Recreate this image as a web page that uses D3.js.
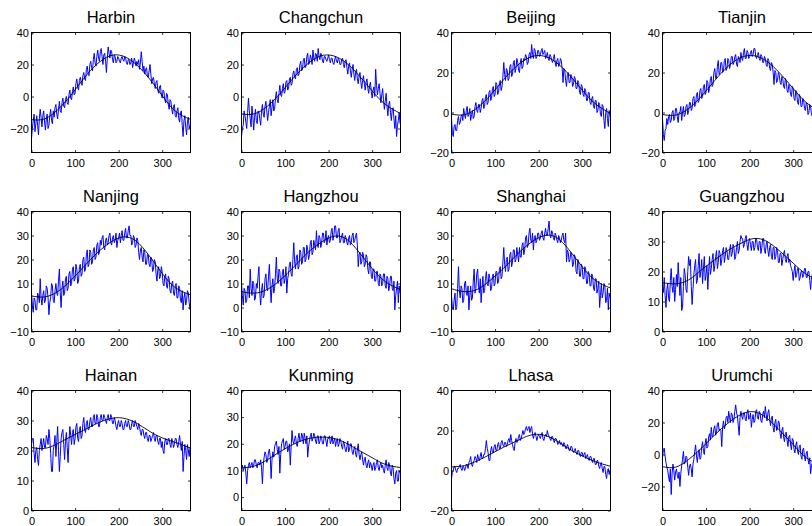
<!DOCTYPE html>
<meta charset="utf-8">
<style>
body { margin: 0; background: #fff; }
svg { display: block; font-family: "Liberation Sans", Arial, Helvetica, sans-serif; }
.tick text { font-size: 11px; fill: #000; }
.tick line { stroke: #000; stroke-width: 0.8px; }
.title { font-size: 16.5px; text-anchor: middle; fill: #000; }
.temp { fill: none; stroke: #0000ff; stroke-width: 1px; stroke-linejoin: round; }
.fit { fill: none; stroke: #000; stroke-width: 0.9px; }
.frame { fill: none; stroke: #000; stroke-width: 1px; }
</style>
<body></body>
<script src="https://cdn.jsdelivr.net/npm/d3@7"></script>
<script>

// day of year for the daily readings (every 2nd day) and for the fitted curve
var days = d3.range(0, 365, 2)
var fitDays = [0, 30, 60, 90, 120, 150, 180, 210, 240, 270, 300, 330, 365]
var xTicks = [0, 100, 200, 300]

var cities = ["Harbin", "Changchun", "Beijing", "Tianjin",
              "Nanjing", "Hangzhou", "Shanghai", "Guangzhou",
              "Hainan", "Kunming", "Lhasa", "Urumchi"]

var yLimits = [[-35, 40], [-35, 40], [-20, 40], [-20, 40],
               [-10, 40], [-10, 40], [-10, 40], [0, 40],
               [0, 40], [-5, 40], [-20, 40], [-35, 40]]
var yStep = [20, 20, 20, 20, 10, 10, 10, 10, 10, 10, 20, 20]

// daily temperatures, one row = 20 days
var harbin = [-26,-20,-15,-11,-22,-17,-12,-18,-24,-14,
  -8,-13,-19,-12,-9,-16,-21,-14,-11,-20,
  -18,-12,-8,-15,-17,-9,-13,-7,-5,-11,
  -14,-8,-3,-9,-10,-4,-1,-6,-7,-2,
  0,-4,-5,1,4,-1,-2,3,6,1,
  2,8,11,6,4,10,12,9,7,13,
  15,11,10,17,19,14,13,20,22,18,
  16,23,27,21,19,25,29,24,22,28,
  30,25,20,26,27,22,15,24,31,27,
  24,29,28,23,21,26,25,21,22,25,
  24,22,21,24,25,23,22,25,24,21,
  20,23,23,20,21,24,18,21,24,22,
  19,22,20,23,17,21,28,22,16,19,
  14,17,18,13,12,16,20,14,8,11,
  12,8,5,9,10,4,2,6,7,1,
  -1,4,3,-2,-4,2,1,-5,-8,-2,
  -3,-8,-11,-6,-5,-12,-13,-9,-7,-14,
  -16,-10,-9,-18,-25,-15,-12,-19,-24,-16,
  -13,-20,-18]
var changchun = [-25,-20,-18,-9,-12,-16,-20,-10,-1,-9,
  -14,-19,-6,-12,-21,-13,-8,-15,-17,-9,
  -10,-14,-18,-9,-5,-11,-13,-6,-3,-9,
  -15,-10,-6,-2,-12,-7,-2,-9,-8,-1,
  3,-2,-4,2,7,1,0,5,8,2,
  3,9,10,4,5,11,12,7,8,14,
  16,12,11,17,18,13,14,20,22,16,
  17,23,24,18,19,25,27,20,21,26,
  24,20,29,24,22,27,26,22,30,25,
  23,27,26,22,21,25,25,23,22,24,
  26,23,21,24,24,21,20,23,25,22,
  21,24,23,20,20,23,24,20,18,22,
  23,18,14,19,21,16,12,17,20,14,
  10,15,17,11,8,13,15,9,5,10,
  13,8,4,9,11,5,2,7,9,3,
  -1,4,6,0,17,7,1,5,8,2,
  -4,1,5,-2,-8,-3,2,-6,-12,-5,
  -3,-10,-15,-8,-7,-14,-20,-12,-25,-18,
  -15,-10,-17]
var beijing = [-3,-10,-12,-7,-6,-9,-9,-4,-2,-6,
  -5,-2,-1,-4,2,-1,-3,1,3,-2,
  -1,2,-4,-1,1,-3,-2,3,5,1,
  0,4,4,0,2,6,7,2,3,8,
  9,4,5,10,11,6,7,12,13,8,
  9,15,14,9,10,15,16,11,13,18,
  25,19,16,22,21,16,17,23,24,18,
  19,25,26,20,22,27,25,21,20,25,
  27,22,23,27,26,29,28,24,25,29,
  30,27,34,29,27,32,31,27,28,31,
  31,28,29,31,32,29,30,31,27,28,
  30,27,26,29,28,26,25,27,29,25,
  23,26,27,23,24,27,26,22,15,22,
  21,16,13,19,20,15,15,19,18,13,
  14,18,17,12,12,16,15,10,9,14,
  13,9,8,12,11,6,6,10,10,5,
  4,7,8,3,2,6,6,0,1,5,
  4,-1,-2,4,3,-4,-8,0,2,-3,
  -7,1,-2]
var tianjin = [-3,-11,-14,-9,-8,-3,-6,-2,-1,-5,
  -4,0,1,-4,-3,2,2,-2,-5,0,
  0,3,-4,0,3,-2,-1,3,4,-1,
  1,5,5,1,2,7,8,3,4,9,
  10,5,6,11,12,7,8,13,14,9,
  10,16,15,10,12,17,18,13,14,20,
  22,17,17,23,26,19,20,25,25,20,
  21,26,27,21,22,27,26,22,24,28,
  28,24,25,28,29,24,23,28,27,25,
  30,27,26,30,32,27,27,31,30,27,
  28,30,31,28,29,32,32,28,27,29,
  30,27,26,29,28,25,25,28,27,24,
  23,27,26,22,21,25,24,20,14,21,
  20,15,16,20,19,15,14,18,17,13,
  12,17,16,11,10,14,13,9,8,13,
  12,7,6,11,10,5,4,9,8,3,
  3,7,6,2,1,5,4,-1,0,4,
  3,-1,-2,3,2,-3,-1,2,3,-2,
  -2,1,-4]
var nanjing = [6,1,-2,4,3,-1,-1,6,5,2,
  12,4,1,5,7,2,3,9,8,4,
  -3,2,4,10,9,3,2,7,10,6,
  5,11,16,6,0,8,11,5,6,12,
  13,7,8,14,15,9,10,16,17,11,
  12,18,16,10,11,17,18,13,14,20,
  21,15,16,22,24,17,18,24,23,18,
  19,24,25,20,21,26,27,22,23,28,
  26,29,30,25,24,28,29,26,27,30,
  31,27,26,29,30,27,28,31,25,28,
  29,31,27,30,32,28,28,31,33,29,
  29,32,34,30,30,26,27,30,29,25,
  26,29,28,23,20,24,25,21,19,24,
  23,18,18,22,22,18,17,21,20,15,
  16,20,19,14,11,16,17,12,13,17,
  15,10,9,13,14,9,8,13,12,7,
  6,10,11,6,5,9,10,4,4,9,
  8,3,2,7,-1,4,6,1,3,7,
  6,2,-1]
var hangzhou = [10,5,1,8,7,2,3,9,9,4,
  16,8,5,11,10,3,4,10,8,13,
  17,6,1,7,10,4,5,12,14,8,
  7,13,18,9,2,9,12,6,8,14,
  21,12,10,16,15,9,9,15,16,10,
  12,17,6,12,14,18,19,14,13,20,
  27,19,16,21,22,16,17,24,23,18,
  19,25,25,19,20,26,24,20,22,27,
  28,22,23,28,26,24,32,26,25,30,
  29,25,27,31,31,27,28,32,26,29,
  30,27,28,32,33,28,30,34,34,29,
  29,32,33,27,28,30,31,27,27,30,
  29,27,26,29,30,26,27,30,31,27,
  28,30,31,26,17,22,23,18,19,23,
  22,17,18,22,21,16,14,19,19,13,
  12,16,16,11,11,15,15,10,9,14,
  13,9,10,14,14,9,8,13,12,7,
  9,13,13,8,7,11,-1,5,8,11,
  2,9,6]
var shanghai = [5,0,-1,3,6,-1,0,8,17,7,
  4,9,8,2,3,10,11,6,5,9,
  -1,5,9,3,4,11,16,6,8,14,
  16,9,6,12,2,8,13,6,7,12,
  15,10,9,14,12,7,8,13,14,9,
  10,15,15,10,11,16,17,12,13,19,
  25,18,15,20,21,15,16,22,23,17,
  19,24,24,19,20,25,22,19,25,21,
  21,26,27,22,24,29,30,25,26,31,
  33,28,27,31,24,29,30,27,28,31,
  31,28,29,31,32,29,28,31,33,30,
  30,33,36,30,29,32,31,29,28,31,
  30,28,27,30,29,27,28,30,31,28,
  27,31,19,24,23,19,20,23,22,17,
  18,22,21,15,14,20,19,13,13,18,
  17,12,12,17,16,10,10,15,14,9,
  9,14,13,8,7,12,12,6,8,11,
  0,5,10,4,6,10,9,2,3,8,
  -1,6,4]
var guangzhou = [15,13,18,12,8,14,16,11,10,17,
  21,15,13,18,10,14,19,15,23,17,
  12,18,7,8,15,21,19,14,13,20,
  25,22,24,15,9,14,19,22,24,16,
  17,22,26,18,20,24,16,21,25,17,
  19,22,14,20,25,19,21,24,26,20,
  22,25,27,21,23,27,26,22,24,27,
  28,23,25,28,27,24,24,27,29,25,
  26,29,28,24,25,28,30,26,27,30,
  32,31,31,28,29,31,32,29,27,30,
  31,29,27,30,30,27,28,31,31,28,
  27,30,30,26,28,31,31,27,26,29,
  30,27,25,28,29,25,24,28,28,24,
  25,28,27,23,23,26,26,22,24,26,
  27,24,23,25,26,23,24,22,21,20,
  17,20,22,18,19,21,21,17,18,20,
  20,18,19,21,21,18,18,20,20,17,
  14,18,19,16,16,19,18,15,15,18,
  17,15,19]
var hainan = [22,24,24,19,16,20,21,17,15,20,
  22,24,20,22,24,21,21,25,24,22,
  27,24,19,13,13,20,22,25,18,23,
  28,20,13,18,24,26,27,22,17,23,
  26,21,16,23,28,25,22,26,27,22,
  24,28,29,24,23,27,28,24,25,29,
  31,27,26,29,30,27,27,30,31,28,
  28,31,32,29,29,32,31,28,28,31,
  32,30,30,32,31,30,29,31,32,30,
  30,32,31,29,29,31,30,28,27,29,
  30,28,28,30,29,27,27,29,30,28,
  28,30,29,27,27,29,30,28,28,30,
  29,28,27,29,28,26,25,27,27,25,
  24,26,26,24,23,25,25,23,24,25,
  26,24,23,25,25,23,22,24,24,21,
  23,20,19,23,24,22,22,24,24,22,
  21,24,23,21,22,24,24,22,21,23,
  25,22,20,23,13,18,22,20,17,22,
  20,18,21]
var kunming = [11,12,10,11,12,9,5,10,12,13,
  11,12,13,11,12,14,14,12,11,13,
  13,12,14,11,5,12,15,17,16,13,
  14,17,18,15,7,14,17,15,19,20,
  21,18,16,19,9,16,20,21,22,18,
  19,21,21,17,18,20,12,19,25,21,
  20,22,23,20,19,22,24,21,21,24,
  23,20,24,22,20,23,15,19,21,23,
  24,21,22,24,23,21,20,23,23,20,
  21,23,22,20,20,23,23,21,19,22,
  22,23,20,21,23,20,21,22,19,21,
  22,19,20,22,21,19,18,21,20,18,
  17,19,21,17,18,20,20,17,16,18,
  19,16,15,18,20,16,14,16,17,14,
  12,14,15,12,11,13,14,11,13,12,
  10,12,13,10,11,13,14,11,10,12,
  13,11,12,10,9,12,14,11,10,13,
  12,9,8,12,11,7,5,9,10,6,
  6,10,9]
var lhasa = [-4,-1,0,2,2,0,-1,1,1,2,
  3,1,0,2,2,0,1,3,3,1,
  4,5,7,3,2,4,5,7,6,4,
  8,6,5,7,9,6,6,8,8,11,
  15,11,9,5,5,10,12,9,9,12,
  13,10,10,13,14,11,11,14,15,13,
  12,14,14,12,13,15,16,14,18,15,
  13,11,10,14,16,14,15,17,18,15,
  16,18,20,18,19,21,22,20,21,22,
  19,21,22,18,16,18,19,17,15,17,
  18,17,16,18,19,16,15,17,18,17,
  20,18,17,16,15,17,17,15,14,16,
  16,15,13,14,15,13,14,13,12,14,
  13,11,11,13,12,10,10,12,12,10,
  9,10,11,9,8,10,10,8,7,9,
  9,7,8,9,6,7,8,6,5,7,
  7,5,4,6,6,3,3,5,5,2,
  1,3,4,1,-1,2,2,-2,-4,0,
  1,-2,0]
var urumchi = [-2,3,4,-1,-5,-8,-10,-14,-17,-9,
  -25,-12,-6,-10,-16,-11,-9,-13,-15,-11,
  -20,-12,-7,-3,2,-6,-5,-1,-2,-8,
  -13,-7,-6,-9,-14,-6,-3,2,6,-1,
  -5,1,3,-3,-2,5,8,2,0,7,
  10,4,5,11,13,9,17,11,12,16,
  18,12,14,19,20,15,16,15,5,17,
  21,16,18,23,24,20,27,23,20,26,
  25,20,22,27,31,26,24,18,12,23,
  27,24,22,26,26,22,21,26,28,22,
  23,26,17,22,25,20,21,27,28,23,
  22,27,26,21,20,25,27,23,30,25,
  21,26,28,22,18,23,24,17,14,20,
  22,15,16,21,20,13,10,15,17,11,
  8,13,14,9,5,11,12,6,3,10,
  9,3,1,6,8,2,0,5,6,-1,
  -3,3,4,-2,-4,1,2,-3,-6,-2,
  -12,-7,-5,-9,-10,-4,-3,-8,-9,-4,
  -5,-10,-8]

// fitted seasonal curve, read at fitDays
var harbinFit    = [-14.5, -14.0, -8.3, 0.6, 11.3, 20.1, 25.4, 25.3, 20.1, 11.3, 0.6, -9.1, -14.3]
var changchunFit = [-10.9, -10.8, -5.9, 2.2, 11.9, 20.0, 25.2, 25.5, 21.1, 13.0, 3.5, -4.9, -10.6]
var beijingFit   = [-0.8, -1.1, 2.5, 8.8, 16.5, 23.3, 27.6, 28.3, 25.1, 18.9, 11.2, 4.4, -0.5]
var tianjinFit   = [-1.0, -1.3, 2.0, 8.3, 16.0, 23.0, 27.5, 28.4, 25.5, 19.5, 12.0, 5.0, 0.0]
var nanjingFit   = [4.8, 4.4, 6.6, 11.2, 17.0, 22.6, 27.0, 29.4, 27.7, 21.6, 14.2, 8.3, 5.3]
var hangzhouFit  = [6.6, 6.0, 7.6, 11.6, 16.9, 22.5, 26.8, 29.6, 28.6, 23.0, 16.2, 10.8, 7.4]
var shanghaiFit  = [7.8, 6.6, 7.6, 11.5, 16.4, 22.0, 26.8, 29.8, 29.3, 24.0, 17.0, 11.3, 8.1]
var guangzhouFit = [16.3, 15.9, 17.2, 20.6, 23.9, 27.0, 29.4, 31.0, 30.0, 26.7, 22.8, 19.1, 16.6]
var hainanFit    = [21.0, 20.7, 22.3, 24.6, 26.8, 29.0, 30.6, 30.8, 29.2, 26.5, 24.2, 22.7, 20.8]
var kunmingFit   = [11.0, 11.7, 14.1, 17.2, 19.9, 21.8, 22.5, 22.1, 20.3, 17.5, 14.8, 12.3, 11.1]
var lhasaFit     = [1.8, 2.5, 4.9, 8.2, 11.7, 14.8, 17.6, 17.8, 15.0, 10.8, 7.3, 4.4, 2.1]
var urumchiFit   = [-7.6, -7.9, -3.1, 4.1, 12.3, 19.5, 25.0, 26.7, 22.6, 14.8, 6.2, -2.0, -7.0]

var series = [harbin, changchun, beijing, tianjin, nanjing, hangzhou,
              shanghai, guangzhou, hainan, kunming, lhasa, urumchi]
var fitted = [harbinFit, changchunFit, beijingFit, tianjinFit, nanjingFit, hangzhouFit,
              shanghaiFit, guangzhouFit, hainanFit, kunmingFit, lhasaFit, urumchiFit]

// layout of the 3x4 grid (last column runs off the right edge, as in the original)
var colLeft = [31.5, 241.5, 451.5, 662.5],
    rowTop = [32.5, 211.5, 390.5],
    panelW = 159,
    panelH = 120,
    tickLen = 2.5;

var svg = d3.select("body").append("svg")
    .attr("width", 812)
    .attr("height", 526)

var x = d3.scaleLinear().domain([0, 365]).range([0, panelW])

cities.forEach(function(name, i) {
  var col = i % 4, row = Math.floor(i / 4)
  var lim = yLimits[i], step = yStep[i]
  var y = d3.scaleLinear().domain(lim).range([panelH, 0])
  var yTicks = d3.range(Math.ceil(lim[0] / step) * step, lim[1] + 0.001, step)

  var g = svg.append("g")
      .attr("transform", "translate(" + colLeft[col] + "," + rowTop[row] + ")")

  g.append("clipPath").attr("id", "clip" + i)
    .append("rect").attr("width", panelW).attr("height", panelH)

  var temp = d3.line()
      .x(function(d, j) { return x(days[j]) })
      .y(function(d) { return y(d) })
  var fit = d3.line()
      .x(function(d, j) { return x(fitDays[j]) })
      .y(function(d) { return y(d) })
      .curve(d3.curveNatural)

  var plot = g.append("g").attr("clip-path", "url(#clip" + i + ")")
  plot.append("path").attr("class", "temp").attr("d", temp(series[i]))
  plot.append("path").attr("class", "fit").attr("d", fit(fitted[i]))

  // ticks on all four sides, pointing inward, labels on left and bottom
  g.append("g")
      .attr("transform", "translate(0," + panelH + ")")
      .call(d3.axisBottom(x).tickValues(xTicks).tickSizeInner(-tickLen).tickSizeOuter(0).tickPadding(6.5))
  g.append("g")
      .call(d3.axisTop(x).tickValues(xTicks).tickSizeInner(-tickLen).tickSizeOuter(0).tickFormat(""))
  g.append("g")
      .call(d3.axisLeft(y).tickValues(yTicks).tickSizeInner(-tickLen).tickSizeOuter(0).tickPadding(2.5))
  g.append("g")
      .attr("transform", "translate(" + panelW + ",0)")
      .call(d3.axisRight(y).tickValues(yTicks).tickSizeInner(-tickLen).tickSizeOuter(0).tickFormat(""))
  g.selectAll(".domain").remove()
  g.selectAll(".tick text").attr("font-family", null).attr("font-size", null)

  g.append("rect").attr("class", "frame")
      .attr("width", panelW)
      .attr("height", panelH)

  g.append("text").attr("class", "title")
      .attr("x", panelW / 2)
      .attr("y", -9.8)
      .text(name)
})

</script>
